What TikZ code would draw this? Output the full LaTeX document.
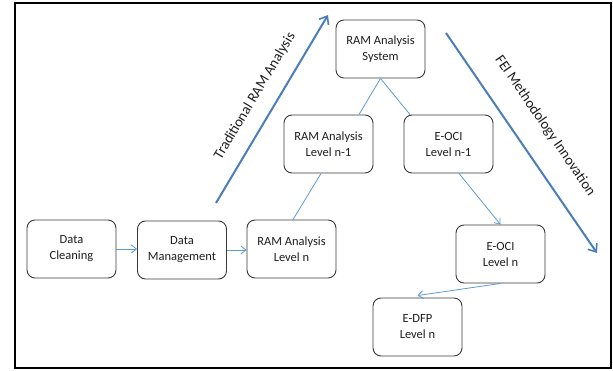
\documentclass[tikz,border=0pt]{standalone}
\usepackage{fontspec}
\setmainfont{Carlito}
\usetikzlibrary{arrows.meta,calc}
\definecolor{boxline}{HTML}{3A3A3A}
\definecolor{linkblue}{HTML}{5B9BD5}
\definecolor{flowblue}{HTML}{4A7EBB}
\definecolor{txt}{HTML}{1E1E1E}
\tikzset{
  stage/.style={draw=boxline, line width=0.9pt, rounded corners=8pt,
    minimum width=89pt, minimum height=58pt, inner sep=0pt,
    align=center, text=txt, font=\fontsize{12.5}{16}\selectfont},
  link/.style={draw=linkblue, line width=0.8pt},
  linkarrow/.style={link, -{Straight Barb[length=5pt,width=8pt]}},
  flow/.style={draw=flowblue, line width=2pt, -{Straight Barb[length=7pt,width=11pt,line width=1.6pt]}},
  flowlabel/.style={text=txt, font=\fontsize{14.5}{17}\selectfont, inner sep=0pt}
}
\begin{document}
\begin{tikzpicture}[x=1pt,y=-1pt]
  % page and frame
  \useasboundingbox (0,0) rectangle (613,371);
  \fill[white] (0,0) rectangle (613,371);
  \draw[black, line width=2.8pt] (15,3) rectangle (611,368);

  % process boxes
  \node[stage] (clean) at (71.5,249) {Data\\Cleaning};
  \node[stage] (mgmt)  at (182,250) {Data\\Management};
  \node[stage] (ramn)  at (291.5,249) {RAM Analysis\\Level n};
  \node[stage] (sys)   at (380.5,49) {RAM Analysis\\System};
  \node[stage] (ramn1) at (328.5,144) {RAM Analysis\\Level n-1};
  \node[stage] (eoci1) at (448.5,144) {E-OCI\\Level n-1};
  \node[stage] (eocin) at (500.5,254) {E-OCI\\Level n};
  \node[stage] (edfp)  at (417.5,327) {E-DFP\\Level n};

  % data flow along the bottom row
  \draw[linkarrow] (clean.east) -- (mgmt.west |- clean.east);
  \draw[linkarrow] (mgmt.east) -- (ramn.west |- mgmt.east);

  % hierarchy links
  \draw[link] (sys.south) -- ([xshift=30.5pt]ramn1.north);
  \draw[link] (sys.south) -- ([xshift=-38.5pt]eoci1.north);
  \draw[link] ([xshift=-7.5pt]ramn1.south) -- ([xshift=1.5pt]ramn.north);
  \draw[linkarrow] ([xshift=10.5pt]eoci1.south) -- (eocin.north);
  \draw[linkarrow] (eocin.south) -- ([yshift=2pt]edfp.north);

  % the two main directions
  \coordinate (tradA) at (216,203);
  \coordinate (tradB) at (328,15);
  \coordinate (feiA) at (446,33);
  \coordinate (feiB) at (597,253);
  \draw[flow] (tradA) -- (tradB);
  \draw[flow] (feiA) -- (feiB);
  \node[flowlabel, rotate=59.2] (tradlbl) at (255,96) {Traditional RAM Analysis};
  \node[flowlabel, rotate=-55.5] (feilbl) at (545,126) {FEI Methodology Innovation};
\end{tikzpicture}
\end{document}
